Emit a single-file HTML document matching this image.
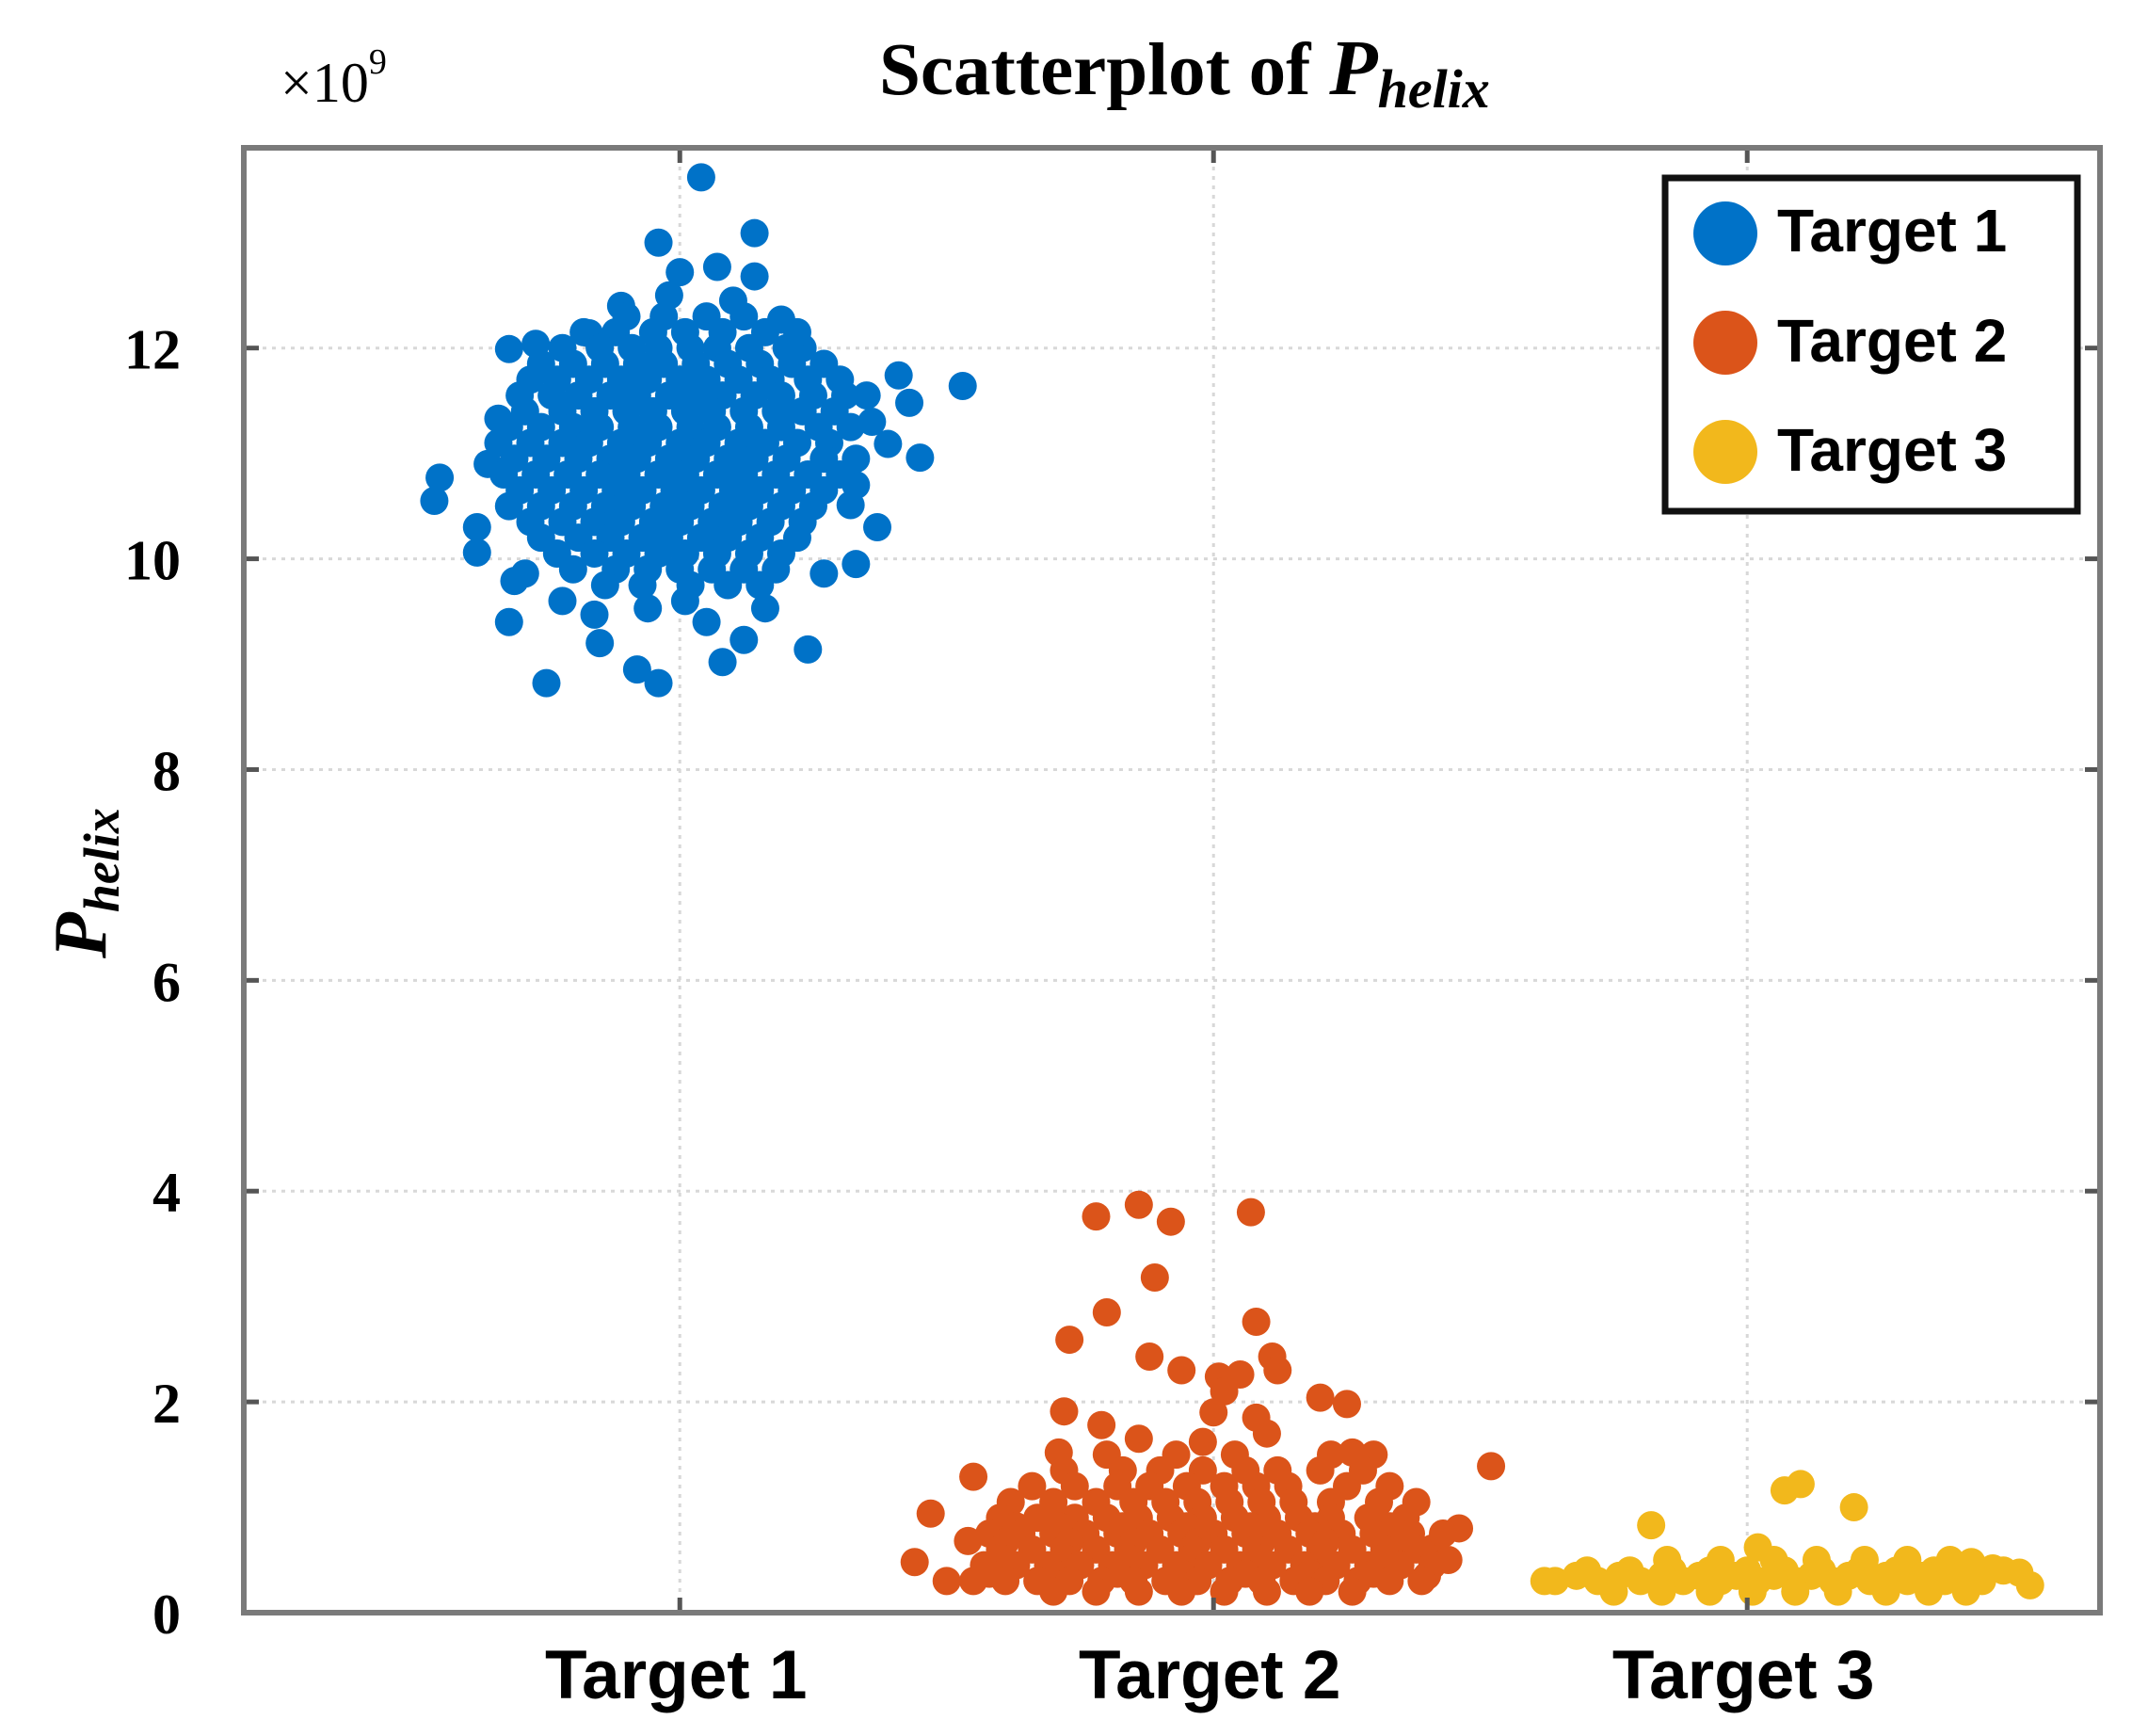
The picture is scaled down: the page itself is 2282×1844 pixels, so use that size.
<!DOCTYPE html>
<html><head><meta charset="utf-8"><style>
html,body{margin:0;padding:0;background:#fff;}
svg{display:block;}
</style></head><body>
<svg id="chart" width="2282" height="1844" viewBox="0 0 2282 1844" xmlns="http://www.w3.org/2000/svg">
<rect x="0" y="0" width="2282" height="1844" fill="#fff"/>
<g id="grid"></g>
<g id="dots"></g>
<g id="axes"></g>
<text x="934" y="100" font-family="Liberation Serif, serif" font-weight="bold" font-size="79" fill="#000">Scatterplot of <tspan font-style="italic" font-size="84">P</tspan><tspan font-style="italic" font-size="58" dy="14">helix</tspan></text>
<text x="298" y="108" font-family="Liberation Serif, serif" font-size="60" fill="#000">×10<tspan font-size="38" dy="-30">9</tspan></text>
<text transform="translate(112,1018) rotate(-90)" font-family="Liberation Serif, serif" font-weight="bold" font-style="italic" font-size="80" fill="#000">P<tspan font-size="54" dy="14">helix</tspan></text>
<g>
<rect x="1769" y="189" width="438" height="354" fill="#fff" stroke="#111" stroke-width="7"/>
<circle cx="1833" cy="248" r="34" fill="#0072c8"/>
<circle cx="1833" cy="364" r="34" fill="#db541a"/>
<circle cx="1833" cy="480" r="34" fill="#f2b81c"/>
<text x="1888" y="267" font-family="Liberation Sans, sans-serif" font-weight="bold" font-size="64" fill="#000">Target 1</text>
<text x="1888" y="384" font-family="Liberation Sans, sans-serif" font-weight="bold" font-size="64" fill="#000">Target 2</text>
<text x="1888" y="500" font-family="Liberation Sans, sans-serif" font-weight="bold" font-size="64" fill="#000">Target 3</text>
</g>
</svg>
<script>
const categories = ["Target 1", "Target 2", "Target 3"];
const categoryPositions = [1, 2, 3];
const yTicks = [0, 2, 4, 6, 8, 10, 12];
const yTickLabels = ["0", "2", "4", "6", "8", "10", "12"];
const seriesColors = ["#0072c8", "#db541a", "#f2b81c"];

const target1Points = [
[1.04,13.62],[1.14,13.09],[0.96,13.0],[1.0,12.72],[1.07,12.77],[1.14,12.68],[1.53,11.64],[1.45,10.96],[1.41,11.74],[1.43,11.48],
[0.55,10.77],[0.54,10.55],[0.62,10.06],[0.75,8.82],[0.96,8.82],[0.92,8.95],[1.08,9.02],[1.24,9.14],[0.85,9.2],[1.12,9.23],
[0.68,9.4],[1.33,9.95],[1.27,9.86],[0.68,11.99],[0.73,12.04],[0.66,11.33],[1.35,11.55],[1.39,11.09],[1.32,10.51],[1.33,10.7],
[0.89,12.4],[0.83,12.14],[1.19,12.27],[1.23,12.0],[0.69,9.79],[0.71,9.86],[0.78,9.6],[0.84,9.47],[1.01,9.6],[1.05,9.4],[1.16,9.53],[0.94,9.53],
[0.62,10.3],[0.64,10.9],[1.37,10.3],[1.36,11.3],[0.98,12.5],[1.1,12.45],
[0.90,12.3],[0.97,12.3],[1.05,12.3],[1.12,12.3],
[0.82,12.15],[0.88,12.15],[0.95,12.15],[1.01,12.15],[1.08,12.15],[1.16,12.15],[1.22,12.15],
[0.78,12.0],[0.85,12.0],[0.91,12.0],[0.96,12.0],[1.02,12.0],[1.07,12.0],[1.13,12.0],[1.20,12.0],
[0.74,11.85],[0.80,11.85],[0.86,11.85],[0.92,11.85],[0.97,11.85],[1.03,11.85],[1.09,11.85],[1.15,11.85],[1.21,11.85],[1.27,11.85],
[0.72,11.7],[0.77,11.7],[0.83,11.7],[0.89,11.7],[0.94,11.7],[1.00,11.7],[1.05,11.7],[1.11,11.7],[1.17,11.7],[1.24,11.7],[1.30,11.7],
[0.70,11.55],[0.76,11.55],[0.81,11.55],[0.87,11.55],[0.92,11.55],[0.98,11.55],[1.03,11.55],[1.08,11.55],[1.14,11.55],[1.19,11.55],[1.25,11.55],[1.31,11.55],
[0.71,11.4],[0.78,11.4],[0.84,11.4],[0.90,11.4],[0.95,11.4],[1.01,11.4],[1.06,11.4],[1.12,11.4],[1.18,11.4],[1.23,11.4],[1.29,11.4],
[0.68,11.25],[0.74,11.25],[0.80,11.25],[0.85,11.25],[0.91,11.25],[0.96,11.25],[1.02,11.25],[1.07,11.25],[1.13,11.25],[1.19,11.25],[1.26,11.25],[1.32,11.25],
[0.66,11.1],[0.72,11.1],[0.78,11.1],[0.83,11.1],[0.89,11.1],[0.94,11.1],[1.00,11.1],[1.05,11.1],[1.11,11.1],[1.16,11.1],[1.22,11.1],[1.28,11.1],
[0.69,10.95],[0.75,10.95],[0.81,10.95],[0.87,10.95],[0.92,10.95],[0.98,10.95],[1.03,10.95],[1.09,10.95],[1.14,10.95],[1.20,10.95],[1.27,10.95],[1.33,10.95],
[0.67,10.8],[0.73,10.8],[0.79,10.8],[0.85,10.8],[0.90,10.8],[0.96,10.8],[1.01,10.8],[1.07,10.8],[1.12,10.8],[1.18,10.8],[1.24,10.8],[1.30,10.8],
[0.70,10.65],[0.76,10.65],[0.82,10.65],[0.88,10.65],[0.93,10.65],[0.99,10.65],[1.04,10.65],[1.10,10.65],[1.15,10.65],[1.21,10.65],[1.27,10.65],
[0.68,10.5],[0.74,10.5],[0.80,10.5],[0.86,10.5],[0.91,10.5],[0.97,10.5],[1.02,10.5],[1.08,10.5],[1.13,10.5],[1.19,10.5],[1.25,10.5],
[0.72,10.35],[0.78,10.35],[0.84,10.35],[0.89,10.35],[0.95,10.35],[1.00,10.35],[1.06,10.35],[1.11,10.35],[1.17,10.35],[1.23,10.35],
[0.74,10.2],[0.81,10.2],[0.87,10.2],[0.93,10.2],[0.98,10.2],[1.04,10.2],[1.09,10.2],[1.15,10.2],[1.22,10.2],
[0.77,10.05],[0.84,10.05],[0.90,10.05],[0.96,10.05],[1.01,10.05],[1.07,10.05],[1.13,10.05],[1.19,10.05],
[0.80,9.9],[0.88,9.9],[0.94,9.9],[1.00,9.9],[1.06,9.9],[1.12,9.9],[1.18,9.9],
[0.86,9.75],[0.93,9.75],[1.02,9.75],[1.09,9.75],[1.15,9.75]
];

const target2Points = [
[1.78,3.76],[1.86,3.87],[1.92,3.71],[2.07,3.8],[1.89,3.18],[1.8,2.85],[1.73,2.59],[2.08,2.76],[2.11,2.43],[2.12,2.3],
[2.52,1.39],[1.47,0.94],[1.44,0.48],[1.55,1.29],[1.54,0.68],[2.4,0.35],[2.41,0.61],[2.2,2.04],[2.25,1.98],[2.26,1.52],
[1.88,2.43],[1.94,2.3],[2.01,2.24],[2.05,2.26],[1.79,1.78],[1.72,1.91],[1.71,1.52],[2.46,0.8],[2.44,0.5],[1.5,0.3],
[1.80,1.5],[1.93,1.5],[2.04,1.5],[2.22,1.5],[2.30,1.5],[1.86,1.65],[2.1,1.7],[2.0,1.9],[2.02,2.1],[2.08,1.85],[1.98,1.62],
[1.72,1.35],[1.83,1.35],[1.90,1.35],[1.98,1.35],[2.06,1.35],[2.12,1.35],[2.20,1.35],[2.28,1.35],
[1.66,1.2],[1.74,1.2],[1.82,1.2],[1.88,1.2],[1.95,1.2],[2.02,1.2],[2.08,1.2],[2.14,1.2],[2.25,1.2],[2.33,1.2],
[1.62,1.05],[1.70,1.05],[1.78,1.05],[1.85,1.05],[1.91,1.05],[1.97,1.05],[2.03,1.05],[2.09,1.05],[2.15,1.05],[2.22,1.05],[2.31,1.05],[2.38,1.05],
[1.60,0.9],[1.67,0.9],[1.74,0.9],[1.80,0.9],[1.86,0.9],[1.92,0.9],[1.98,0.9],[2.04,0.9],[2.10,0.9],[2.16,0.9],[2.22,0.9],[2.29,0.9],[2.36,0.9],
[1.63,0.82],[1.71,0.82],[1.83,0.82],[1.95,0.82],[2.07,0.82],[2.19,0.82],[2.33,0.82],
[1.58,0.75],[1.64,0.75],[1.70,0.75],[1.76,0.75],[1.82,0.75],[1.88,0.75],[1.94,0.75],[2.00,0.75],[2.06,0.75],[2.12,0.75],[2.18,0.75],[2.24,0.75],[2.30,0.75],[2.37,0.75],[2.43,0.75],
[1.61,0.67],[1.73,0.67],[1.85,0.67],[1.97,0.67],[2.09,0.67],[2.21,0.67],[2.35,0.67],
[1.60,0.6],[1.66,0.6],[1.72,0.6],[1.78,0.6],[1.84,0.6],[1.90,0.6],[1.96,0.6],[2.02,0.6],[2.08,0.6],[2.14,0.6],[2.20,0.6],[2.26,0.6],[2.32,0.6],[2.38,0.6],
[1.60,0.52],[1.72,0.52],[1.84,0.52],[1.96,0.52],[2.08,0.52],[2.20,0.52],[2.32,0.52],
[1.57,0.45],[1.63,0.45],[1.69,0.45],[1.75,0.45],[1.81,0.45],[1.87,0.45],[1.93,0.45],[1.99,0.45],[2.05,0.45],[2.11,0.45],[2.17,0.45],[2.23,0.45],[2.29,0.45],[2.35,0.45],[2.41,0.45],
[1.58,0.37],[1.70,0.37],[1.82,0.37],[1.94,0.37],[2.06,0.37],[2.18,0.37],[2.30,0.37],
[1.55,0.3],[1.61,0.3],[1.67,0.3],[1.73,0.3],[1.79,0.3],[1.85,0.3],[1.91,0.3],[1.97,0.3],[2.03,0.3],[2.09,0.3],[2.15,0.3],[2.21,0.3],[2.27,0.3],[2.33,0.3],[2.39,0.3],
[1.70,0.2],[1.78,0.2],[1.86,0.2],[1.94,0.2],[2.02,0.2],[2.10,0.2],[2.18,0.2],[2.26,0.2]
];

const target3Points = [
[3.07,1.16],[3.1,1.22],[3.2,1.0],[2.82,0.83],[3.51,0.38],[3.53,0.26],[3.42,0.48],[3.02,0.62],[2.62,0.3],[3.46,0.42],
[2.85,0.5],[2.95,0.5],[3.05,0.5],[3.13,0.5],[3.22,0.5],[3.30,0.5],[3.38,0.5],
[2.70,0.4],[2.78,0.4],[2.86,0.4],[2.93,0.4],[3.00,0.4],[3.07,0.4],[3.14,0.4],[3.21,0.4],[3.28,0.4],[3.35,0.4],[3.42,0.4],[3.48,0.4],
[2.64,0.3],[2.72,0.3],[2.80,0.3],[2.88,0.3],[2.95,0.3],[3.02,0.3],[3.09,0.3],[3.16,0.3],[3.23,0.3],[3.30,0.3],[3.37,0.3],[3.44,0.3],
[2.68,0.35],[2.76,0.35],[2.84,0.35],[2.91,0.35],[2.98,0.35],[3.05,0.35],[3.12,0.35],[3.19,0.35],[3.26,0.35],[3.33,0.35],[3.40,0.35],
[2.75,0.2],[2.84,0.2],[2.93,0.2],[3.01,0.2],[3.09,0.2],[3.17,0.2],[3.26,0.2],[3.34,0.2],[3.41,0.2]
];

const X0 = 259, X1 = 2231, Y0 = 1713, Y1 = 157;
const xMin = 0.183, xMax = 3.661, yMin = 0, yMax = 13.9;
function xScale(v) { return X0 + (v - xMin) / (xMax - xMin) * (X1 - X0); }
function yScale(v) { return Y0 - (v - yMin) / (yMax - yMin) * (Y0 - Y1); }

const NS = "http://www.w3.org/2000/svg";
function mk(tag, attrs) { const e = document.createElementNS(NS, tag); for (const k in attrs) e.setAttribute(k, attrs[k]); return e; }
const grid = document.getElementById("grid");
const dots = document.getElementById("dots");
const axes = document.getElementById("axes");

yTicks.forEach((t, i) => {
  const y = yScale(t);
  if (t > 0) {
    const g = mk("line", {x1: X0, x2: X1, y1: y, y2: y, stroke: "#d8d8d8", "stroke-width": 3, "stroke-dasharray": "4 6"});
    
    
    grid.appendChild(g);
  }
  const tk = mk("line", {x1: X0, x2: X0 + 16, y1: y, y2: y, stroke: "#555", "stroke-width": 5});
  
  
  axes.appendChild(tk);
  const tk2 = mk("line", {x1: X1 - 16, x2: X1, y1: y, y2: y, stroke: "#555", "stroke-width": 5});
  
  
  axes.appendChild(tk2);
  const lb = mk("text", {x: 192, y: y + 22, "text-anchor": "end", "font-family": "Liberation Serif, serif", "font-weight": "bold", "font-size": 60, fill: "#000"});
  lb.textContent = yTickLabels[i];
  
  
  axes.appendChild(lb);
});

categoryPositions.forEach((c, i) => {
  const x = xScale(c);
  const g = mk("line", {x1: x, x2: x, y1: Y1, y2: Y0, stroke: "#d8d8d8", "stroke-width": 3, "stroke-dasharray": "4 6"});
  
  
  grid.appendChild(g);
  const tk = mk("line", {x1: x, x2: x, y1: Y0 - 16, y2: Y0, stroke: "#555", "stroke-width": 5});
  
  
  axes.appendChild(tk);
  const tk2 = mk("line", {x1: x, x2: x, y1: Y1, y2: Y1 + 16, stroke: "#555", "stroke-width": 5});
  
  
  axes.appendChild(tk2);
  const lb = mk("text", {x: x - 4, y: 1804, "text-anchor": "middle", "font-family": "Liberation Sans, sans-serif", "font-weight": "bold", "font-size": 73, fill: "#000"});
  lb.textContent = categories[i];
  
  
  axes.appendChild(lb);
});

const frame = mk("rect", {x: X0, y: Y1, width: X1 - X0, height: Y0 - Y1, fill: "none", stroke: "#7a7a7a", "stroke-width": 6});


axes.appendChild(frame);

[target1Points, target2Points, target3Points].forEach((pts, si) => {
  pts.forEach(p => {
    const c = mk("circle", {cx: xScale(p[0]), cy: yScale(p[1]), r: 15, fill: seriesColors[si]});
    
    
    dots.appendChild(c);
  });
});
</script>
</body></html>
